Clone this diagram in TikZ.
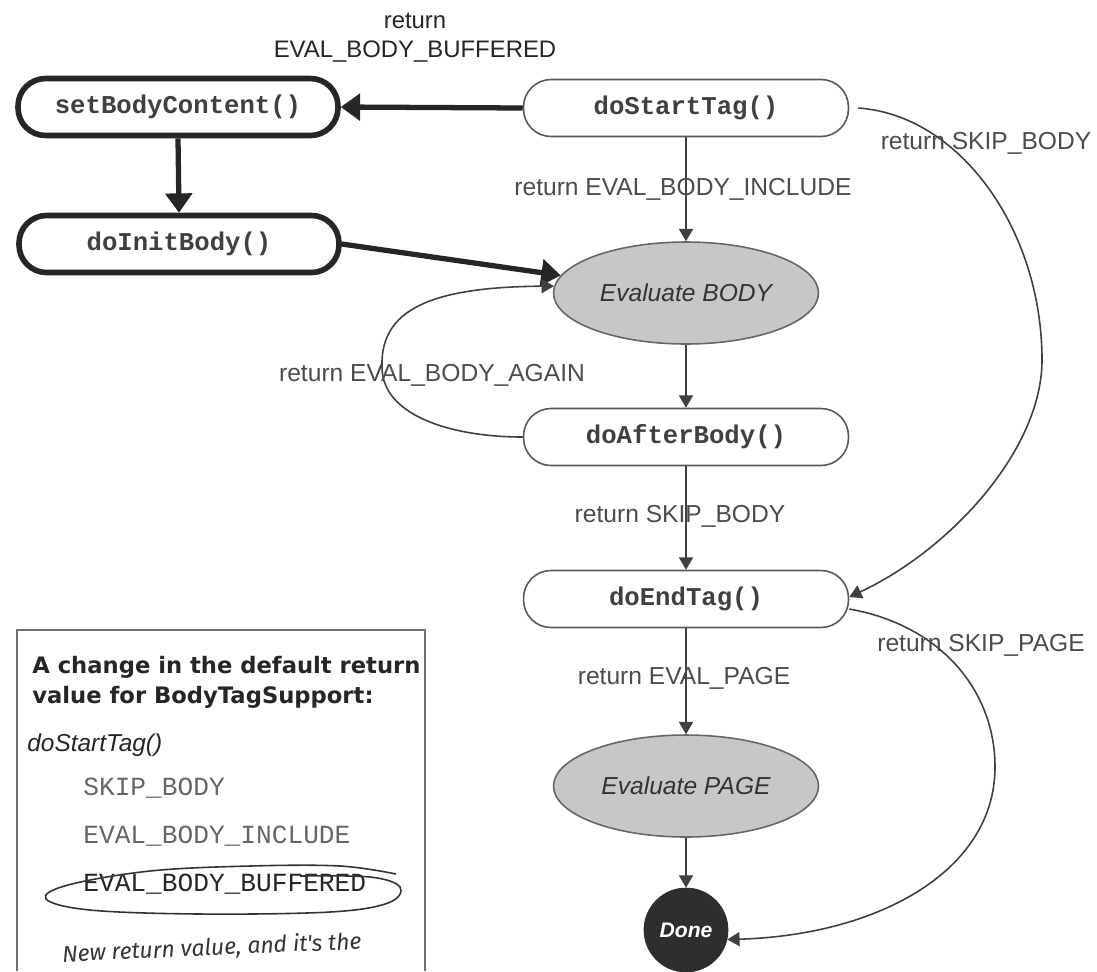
\documentclass[tikz,border=0pt]{standalone}
\usepackage{fontspec}
\setmainfont{Liberation Sans}
\newfontfamily\monofnt{Liberation Mono}
\newfontfamily\headfnt{DejaVu Sans}
\newfontfamily\handfnt{Fira Sans}
\usetikzlibrary{arrows.meta,shapes.geometric}
\tikzset{
  pillthick/.style={draw=black!85, line width=3.2pt, rounded corners=0.55cm,
    minimum width=6.4cm, minimum height=1.14cm, inner sep=0pt,
    font=\monofnt\bfseries\fontsize{14.6}{16}\selectfont, text=black!75},
  pill/.style={draw=black!65, line width=0.9pt, rounded corners=0.55cm,
    minimum width=6.5cm, minimum height=1.14cm, inner sep=0pt, fill=white,
    font=\monofnt\bfseries\fontsize{14.6}{16}\selectfont, text=black!75},
  ell/.style={ellipse, draw=black!60, line width=0.9pt, fill=black!22,
    minimum width=5.3cm, minimum height=2.04cm, inner sep=0pt,
    font=\itshape\fontsize{14}{16}\selectfont, text=black!80},
  donestyle/.style={circle, draw=black!82, fill=black!82, minimum size=1.68cm,
    inner sep=0pt, font=\bfseries\itshape\fontsize{12}{14}\selectfont, text=white},
  lab/.style={font=\fontsize{14}{16}\selectfont, text=black!70, inner sep=1pt},
  thinarr/.style={draw=black!75, line width=0.9pt, -{Triangle[length=7pt,width=8pt]}},
  thickarr/.style={draw=black!85, line width=3pt, -{Triangle[length=11pt,width=15pt]}},
  headtxt/.style={font=\headfnt\bfseries\fontsize{12.9}{15}\selectfont, text=black!85, anchor=west, inner sep=0pt},
  codetxt/.style={font=\monofnt\fontsize{14.9}{16}\selectfont, text=black!60, anchor=west, inner sep=0pt},
}
\begin{document}
\begin{tikzpicture}[x=0.02cm, y=-0.02cm]
\useasboundingbox (0,0) rectangle (1097,971);
\fill[white] (0,0) rectangle (1097,971);

% main nodes
\node[pillthick] (sbc) at (178,107) {setBodyContent()};
\node[pillthick] (dib) at (179,244) {doInitBody()};
\node[pill] (ds) at (686,108) {doStartTag()};
\node[ell] (evb) at (686,293) {Evaluate BODY};
\node[pill] (dab) at (686,437) {doAfterBody()};
\node[pill] (det) at (686,599) {doEndTag()};
\node[ell] (evp) at (686,786) {Evaluate PAGE};
\node[donestyle] (done) at (686,930) {Done};

% thick connectors
\draw[thickarr] (ds.west) -- (sbc.east);
\node[font=\fontsize{13.6}{16.5}\selectfont, text=black!85, align=center] (lbuf) at (415,38) {return\\EVAL\_BODY\_BUFFERED};
\draw[thickarr] (sbc.south) -- (dib.north);
\draw[thickarr] (dib.east) -- (evb.172.6);

% thin connectors
\draw[thinarr] (ds.south) -- (evb.north);
\node[lab] (linc) at (683,189) {return EVAL\_BODY\_INCLUDE};

\draw[thinarr] (dab.west) .. controls (450,437) and (382,415) .. (382,367)
   .. controls (380,310) and (430,287) .. (evb.177.3);
\node[lab] (lagain) at (432,375) {return EVAL\_BODY\_AGAIN};

\draw[thinarr] (evb.south) -- (dab.north);
\draw[thinarr] (dab.south) -- (det.north);
\node[lab] (lskip1) at (680,516) {return SKIP\_BODY};

\draw[thinarr] ([xshift=0.18cm]ds.east) .. controls (960,115) and (1042,230) .. (1042,360)
   .. controls (1042,450) and (950,550) .. ([yshift=0.04cm]det.east);
\node[lab] (lskip2) at (986,143) {return SKIP\_BODY};

\draw[thinarr] (det.south) -- (evp.north);
\node[lab] (levp) at (684,678) {return EVAL\_PAGE};
\draw[thinarr] (evp.south) -- (done.north);

\draw[thinarr] ([yshift=-0.2cm]det.east) .. controls (940,625) and (995,690) .. (995,767)
   .. controls (995,870) and (880,935) .. (done.-13);
\node[lab] (lskippage) at (981,645) {return SKIP\_PAGE};

% note box
\draw[draw=black!55, line width=1pt] (17,971) -- (17,630) -- (425,630) -- (425,971);
\node[headtxt] (h1) at (32,667) {A change in the default return};
\node[headtxt] (h2) at (32,697) {value for BodyTagSupport:};
\node[font=\itshape\fontsize{13.9}{16}\selectfont, text=black!85, anchor=west, inner sep=0pt] (dst) at (27,745) {doStartTag()};
\node[codetxt] (c1) at (83,788) {SKIP\_BODY};
\node[codetxt] (c2) at (83,836) {EVAL\_BODY\_INCLUDE};
\node[codetxt, text=black!85] (c3) at (83,884) {EVAL\_BODY\_BUFFERED};
\draw[black!80, line width=0.9pt] plot[smooth, tension=0.6] coordinates {
  (300,876) (370,877) (400,887) (388,903) (330,912) (200,914) (90,910)
  (46,899) (68,885) (150,871) (250,866) (340,866) (396,874)};
\node[font=\handfnt\itshape\fontsize{13}{15}\selectfont, text=black!80, anchor=west, rotate=2.5, inner sep=0pt] (hand) at (62,955) {New return value, and it's the};
\end{tikzpicture}
\end{document}
